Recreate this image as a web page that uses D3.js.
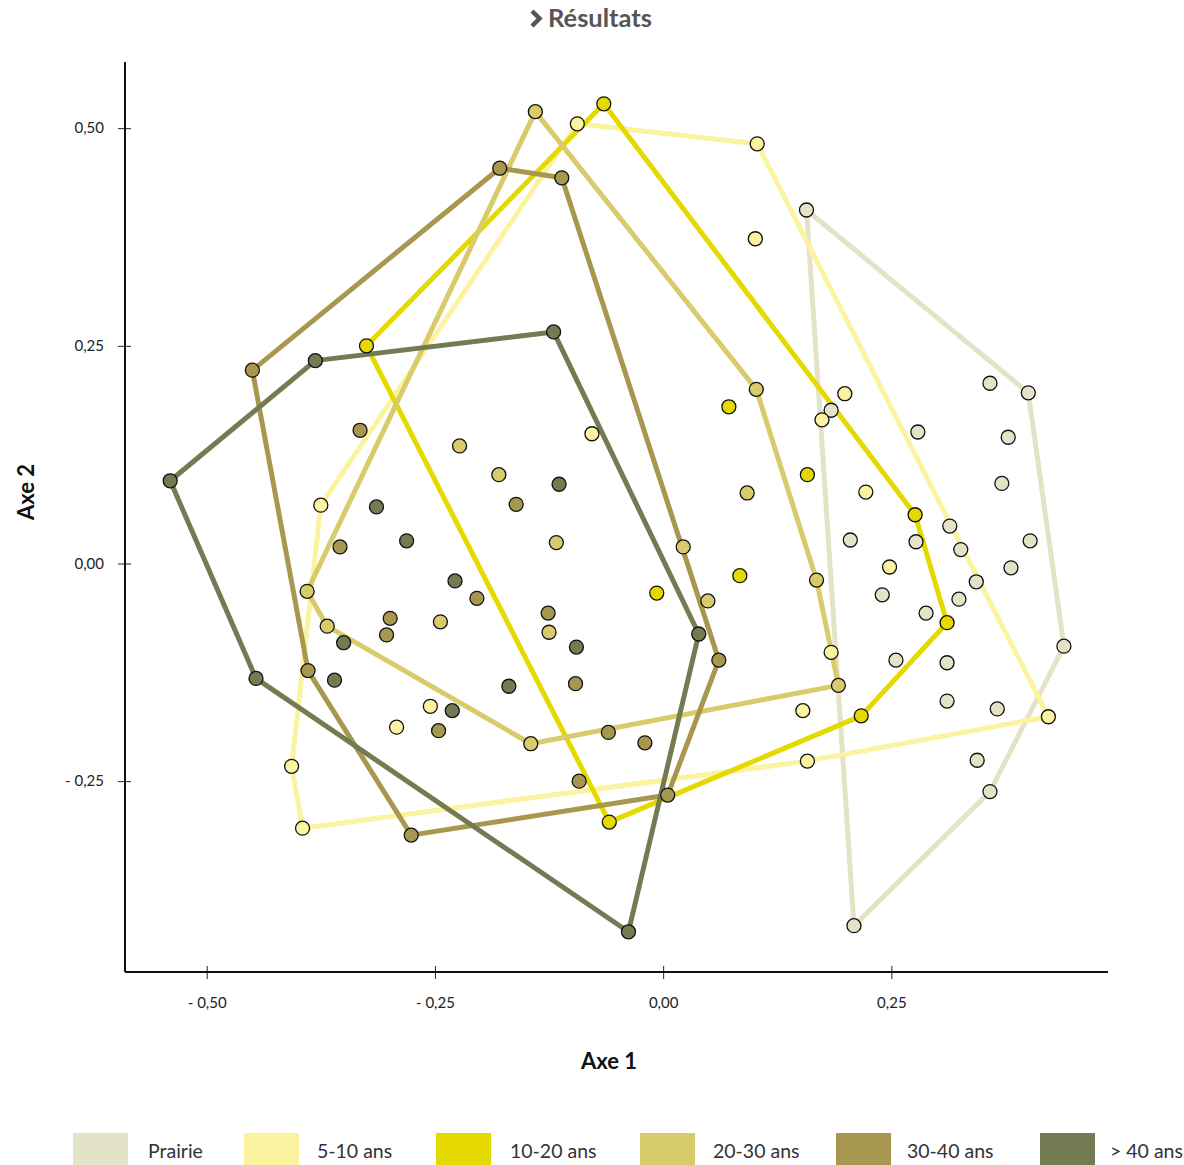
<!DOCTYPE html>
<html>
<head>
<meta charset="utf-8">
<script src="https://cdn.jsdelivr.net/npm/d3@7"></script>
<style>
  body { margin: 0; background: #fff; }
  text { font-family: Lato, "Open Sans", sans-serif; }
</style>
</head>
<body>
<div id="chart"></div>
<script>
// groups, in legend order
var groups = ['Prairie', '5-10 ans', '10-20 ans', '20-30 ans', '30-40 ans', '> 40 ans'];
var colors = ['#e5e3c7', '#fbf3a0', '#e6d900', '#d8cb6b', '#a8974f', '#737b53'];

// coordinates on the two axes, [axe1, axe2]
var prairie = [
  [0.157, 0.406], [0.400, 0.196], [0.439, -0.095], [0.358, -0.262], [0.209, -0.416],
  [0.358, 0.207], [0.378, 0.145], [0.279, 0.151], [0.371, 0.092], [0.184, 0.176],
  [0.314, 0.043], [0.205, 0.027], [0.277, 0.025], [0.402, 0.026], [0.326, 0.016],
  [0.381, -0.005], [0.343, -0.021], [0.240, -0.036], [0.324, -0.041], [0.288, -0.057],
  [0.255, -0.111], [0.311, -0.114], [0.311, -0.158], [0.366, -0.167], [0.344, -0.226]
];
var ans5_10 = [
  [-0.094, 0.505], [0.103, 0.482], [0.422, -0.176], [0.158, -0.227], [-0.395, -0.304],
  [-0.407, -0.233], [-0.375, 0.067], [0.101, 0.373], [0.199, 0.195], [0.174, 0.165],
  [-0.078, 0.149], [0.222, 0.082], [0.248, -0.004], [0.184, -0.102], [0.153, -0.169],
  [-0.255, -0.164], [-0.292, -0.188]
];
var ans10_20 = [
  [-0.065, 0.528], [0.276, 0.056], [0.311, -0.068], [0.217, -0.175], [-0.059, -0.297],
  [-0.325, 0.250], [0.072, 0.180], [0.158, 0.102], [0.084, -0.014], [-0.007, -0.034]
];
var ans20_30 = [
  [-0.140, 0.519], [0.102, 0.200], [0.168, -0.019], [0.192, -0.140], [-0.145, -0.207],
  [-0.368, -0.072], [-0.390, -0.032], [-0.223, 0.135], [-0.180, 0.102], [-0.117, 0.024],
  [-0.244, -0.067], [-0.125, -0.079], [0.092, 0.081], [0.049, -0.043], [0.022, 0.019]
];
var ans30_40 = [
  [-0.179, 0.454], [-0.111, 0.443], [0.061, -0.111], [0.005, -0.266], [-0.276, -0.312],
  [-0.389, -0.123], [-0.450, 0.222], [-0.332, 0.153], [-0.354, 0.019], [-0.161, 0.068],
  [-0.299, -0.063], [-0.303, -0.082], [-0.204, -0.040], [-0.126, -0.057], [-0.096, -0.138],
  [-0.246, -0.192], [-0.060, -0.194], [-0.020, -0.206], [-0.092, -0.250]
];
var ans40plus = [
  [-0.120, 0.266], [0.039, -0.081], [-0.038, -0.423], [-0.446, -0.132], [-0.540, 0.095],
  [-0.381, 0.233], [-0.314, 0.065], [-0.281, 0.026], [-0.114, 0.091], [-0.228, -0.020],
  [-0.350, -0.091], [-0.095, -0.096], [-0.360, -0.134], [-0.169, -0.141], [-0.231, -0.169]
];
var series = [prairie, ans5_10, ans10_20, ans20_30, ans30_40, ans40plus];

var xTicks = [-0.5, -0.25, 0, 0.25];
var yTicks = [-0.25, 0, 0.25, 0.5];

var width = 1184, height = 1165;
var plotLeft = 125, plotRight = 1108, plotTop = 62, plotBottom = 972;
// legend swatch and label positions
var legendX = [73, 244, 436, 640, 836, 1040];
var legendTextX = [148, 317, 510, 713, 907, 1110];

var fmt = function (v) {
  var s = d3.format('.2f')(Math.abs(v)).replace('.', ',');
  return v < 0 ? '- ' + s : s;
};

var svg = d3.select('#chart').append('svg')
  .attr('width', width)
  .attr('height', height);

var x = d3.scaleLinear().domain([-0.5895, 0.4873]).range([plotLeft, plotRight]);
var y = d3.scaleLinear().domain([-0.4692, 0.576]).range([plotBottom, plotTop]);

// title
var title = svg.append('g');
title.append('path')
  .attr('d', 'M532,11 L539.5,18.5 L532,26')
  .attr('fill', 'none')
  .attr('stroke', '#555')
  .attr('stroke-width', 4.5)
  .attr('stroke-linejoin', 'miter');
title.append('text')
  .attr('x', 548)
  .attr('y', 27)
  .attr('font-size', 25.5)
  .attr('font-weight', 'bold')
  .attr('fill', '#555')
  .text('Résultats');

// axes
var xAxis = d3.axisBottom(x).tickValues(xTicks).tickFormat(fmt).tickSizeOuter(0);
var yAxis = d3.axisLeft(y).tickValues(yTicks).tickFormat(fmt).tickSizeOuter(0);

var gx = svg.append('g')
  .attr('transform', 'translate(0,' + plotBottom + ')')
  .call(xAxis);
gx.select('.domain').remove();
gx.selectAll('.tick line').attr('y1', -6).attr('y2', 7).attr('stroke', '#222');
gx.selectAll('.tick text').attr('y', 25).attr('font-size', 15).attr('fill', '#222')
  .attr('font-family', 'Lato, sans-serif');

var gy = svg.append('g')
  .attr('transform', 'translate(' + plotLeft + ',0)')
  .call(yAxis);
gy.select('.domain').remove();
gy.selectAll('.tick line').attr('x1', -7).attr('x2', 6).attr('stroke', '#222');
gy.selectAll('.tick text').attr('x', -21).attr('font-size', 15).attr('fill', '#222')
  .attr('font-family', 'Lato, sans-serif');

svg.append('line')
  .attr('x1', plotLeft).attr('x2', plotLeft).attr('y1', plotTop).attr('y2', plotBottom)
  .attr('stroke', '#111').attr('stroke-width', 2);
svg.append('line')
  .attr('x1', plotLeft).attr('x2', plotRight).attr('y1', plotBottom).attr('y2', plotBottom)
  .attr('stroke', '#111').attr('stroke-width', 2);

svg.append('text')
  .attr('x', 609)
  .attr('y', 1069)
  .attr('text-anchor', 'middle')
  .attr('font-size', 22)
  .attr('font-weight', 'bold')
  .attr('fill', '#111')
  .text('Axe 1');

svg.append('text')
  .attr('transform', 'translate(34,492) rotate(-90)')
  .attr('text-anchor', 'middle')
  .attr('font-size', 22)
  .attr('font-weight', 'bold')
  .attr('fill', '#111')
  .text('Axe 2');

// hulls
var hullGroup = svg.append('g');
series.forEach(function (pts, i) {
  var px = pts.map(function (d) { return [x(d[0]), y(d[1])]; });
  var hull = d3.polygonHull(px);
  hullGroup.append('path')
    .attr('d', 'M' + hull.join('L') + 'Z')
    .attr('fill', 'none')
    .attr('stroke', colors[i])
    .attr('stroke-width', 5)
    .attr('stroke-linejoin', 'round');
});

// points
var pointGroup = svg.append('g');
series.forEach(function (pts, i) {
  pointGroup.selectAll('.pt-' + i)
    .data(pts)
    .enter()
    .append('circle')
    .attr('class', 'pt-' + i)
    .attr('cx', function (d) { return x(d[0]); })
    .attr('cy', function (d) { return y(d[1]); })
    .attr('r', 7)
    .attr('fill', colors[i])
    .attr('stroke', '#111')
    .attr('stroke-width', 1.3);
});

// legend
var legend = svg.append('g');
groups.forEach(function (g, i) {
  legend.append('rect')
    .attr('x', legendX[i]).attr('y', 1133)
    .attr('width', 55).attr('height', 32)
    .attr('fill', colors[i]);
  legend.append('text')
    .attr('x', legendTextX[i])
    .attr('y', 1158)
    .attr('font-size', 19.5)
    .attr('fill', '#333')
    .text(g);
});
</script>
</body>
</html>
